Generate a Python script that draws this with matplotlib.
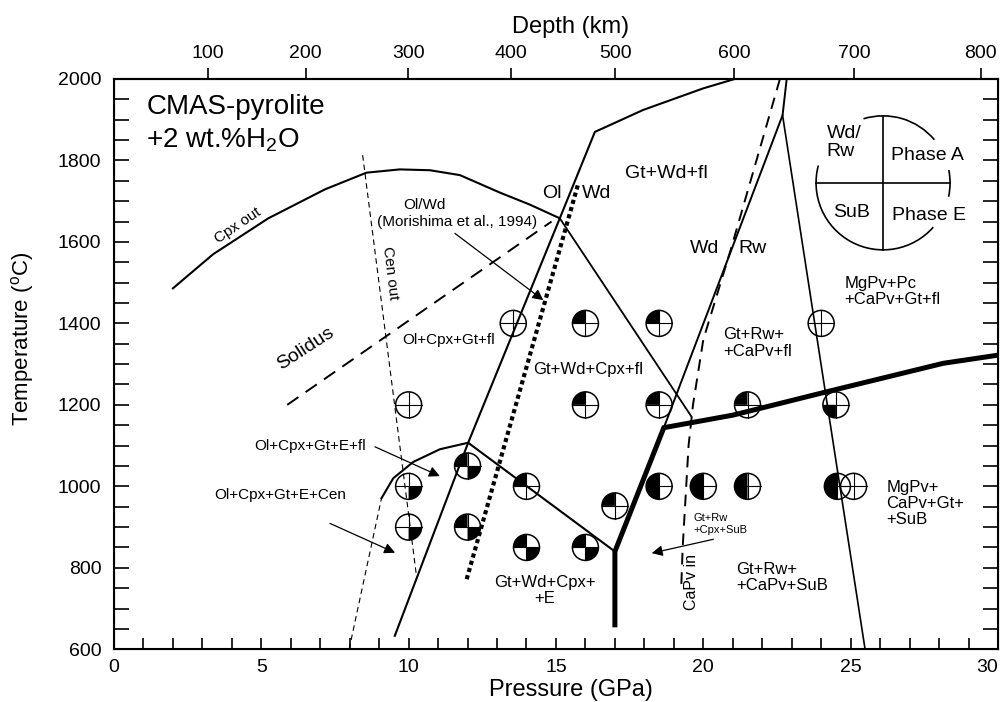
import numpy as np
import matplotlib
matplotlib.use('Agg')
import matplotlib.pyplot as plt
from matplotlib.patches import Circle, Wedge, Arc
from matplotlib.transforms import ScaledTranslation

plt.rcParams['font.family'] = 'Liberation Sans'
plt.rcParams['mathtext.fontset'] = 'custom'
plt.rcParams['mathtext.rm'] = 'Liberation Sans'
plt.rcParams['mathtext.default'] = 'regular'

# phase boundaries (P in GPa, T in C)
cpx_out_P = [2.0, 3.37, 5.24, 7.16, 8.57, 9.70, 10.72, 11.74, 13.1, 14.1, 15.13]
cpx_out_T = [1486, 1570, 1658, 1729, 1770, 1778, 1776, 1764, 1721, 1692, 1658]
cpx_hp_P = [15.13, 19.6]
cpx_hp_T = [1658, 1171]
olwd_P = [9.53, 12.02, 15.13, 16.32, 17.96, 20.0, 21.07]
olwd_T = [633, 1107, 1658, 1870, 1924, 1977, 2000]
phaseE_P = [9.08, 9.48, 10.16, 11.06, 12.02, 17.0]
phaseE_T = [971, 1020, 1060, 1091, 1107, 840]
thick_P = [17.0, 17.0, 18.66, 21.02, 24.18, 28.14, 30.0]
thick_T = [660, 840, 1144, 1175, 1232, 1302, 1322]
wdrw_P = [18.66, 22.69, 22.83]
wdrw_T = [1144, 1911, 2000]
mgpv_P = [22.69, 25.49]
mgpv_T = [1911, 600]
capv_P = [22.6, 20.96, 20.0, 19.65, 19.5, 19.3, 19.25]
capv_T = [2000, 1588, 1360, 1200, 1100, 850, 750]
morishima_P = [11.97, 15.76]
morishima_T = [772, 1744]
solidus_P = [5.88, 14.85]
solidus_T = [1200, 1650]
cen_out_P = [8.44, 10.27]
cen_out_T = [1813, 778]
cen_low_P = [7.98, 9.08]
cen_low_T = [600, 971]

# experiments: filled quadrants TL=Wd/Rw, TR=Phase A, BL=SuB, BR=Phase E
exp_P = [10, 13.55, 16, 18.5, 24.0, 16, 18.5, 21.5, 24.5,
         10, 10, 12, 12, 14, 14, 16, 17.0,
         18.5, 20, 21.5, 24.55, 25.1]
exp_T = [1200, 1400, 1400, 1400, 1400, 1200, 1200, 1200, 1200,
         1000, 900, 1050, 900, 1000, 850, 850, 952,
         1000, 1000, 1000, 1000, 1000]
exp_fill = ['', '', 'TL', 'TL', '', 'TL', 'TL', 'TL', 'BL',
            'BR', 'BR', 'TL BR', 'TL BR', 'TL', 'TL BR', 'TL BR', 'TL',
            'TL BL', 'TL BL', 'TL BL', 'TL BL', '']

depth_km = [100, 200, 300, 400, 500, 600, 700, 800]
depth_P = [3.19, 6.51, 9.99, 13.46, 17.02, 21.05, 25.12, 29.42]

fig = plt.figure(figsize=(10.04, 7.02), dpi=100)
ax = fig.add_axes([0.1135, 0.0751, 0.8805, 0.8124])

k = 'black'
ax.plot(cpx_out_P, cpx_out_T, color=k, lw=1.5)
ax.plot(cpx_hp_P, cpx_hp_T, color=k, lw=1.3)
ax.plot(olwd_P, olwd_T, color=k, lw=1.5)
ax.plot(phaseE_P, phaseE_T, color=k, lw=1.5)
ax.plot(thick_P, thick_T, color=k, lw=3.6, solid_joinstyle='miter')
ax.plot(wdrw_P, wdrw_T, color=k, lw=1.4)
ax.plot(mgpv_P, mgpv_T, color=k, lw=1.2)
ax.plot(capv_P, capv_T, color=k, lw=1.4, dashes=(6, 4))
ax.plot(morishima_P, morishima_T, color=k, lw=3.0, dashes=(1, 0.8))
ax.plot(solidus_P, solidus_T, color=k, lw=1.4, dashes=(7, 4.5))
ax.plot(cen_out_P, cen_out_T, color=k, lw=0.8, dashes=(5, 3.5))
ax.plot(cen_low_P, cen_low_T, color=k, lw=0.8, dashes=(5, 3.5))

# arrows
arr = dict(arrowstyle='-|>', color=k, lw=0.9, mutation_scale=16, shrinkA=0, shrinkB=0)
ax.annotate('', xy=(14.57, 1457), xytext=(11.57, 1621), arrowprops=arr)
ax.annotate('', xy=(11.06, 1025), xytext=(8.86, 1097), arrowprops=arr)
ax.annotate('', xy=(9.54, 837), xytext=(7.33, 909), arrowprops=arr)
ax.annotate('', xy=(18.25, 836), xytext=(20.34, 870), arrowprops=arr)


def sym_transform(x, y):
    return fig.dpi_scale_trans + ScaledTranslation(x, y, ax.transData)


quad = {'TR': (0, 90), 'TL': (90, 180), 'BL': (180, 270), 'BR': (270, 360)}
r = 0.13
for x, y, f in zip(exp_P, exp_T, exp_fill):
    tr = sym_transform(x, y)
    for q in f.split():
        ax.add_patch(Wedge((0, 0), r, quad[q][0], quad[q][1], transform=tr,
                           fc=k, ec='none', zorder=5))
    ax.add_patch(Circle((0, 0), r, transform=tr, fc='none', ec=k, lw=1.1, zorder=6))
    ax.plot([-r, r], [0, 0], transform=tr, color=k, lw=0.8, zorder=6)
    ax.plot([0, 0], [-r, r], transform=tr, color=k, lw=0.8, zorder=6)

# key circle
tr = sym_transform(26.1, 1745)
R = 0.67
for a1, a2 in [(40, 107), (165, 318.5), (-12, 11)]:
    ax.add_patch(Arc((0, 0), 2 * R, 2 * R, theta1=a1, theta2=a2, transform=tr, color=k, lw=1.2))
ax.plot([-R, R], [0, 0], transform=tr, color=k, lw=1.2)
ax.plot([0, 0], [-R, R], transform=tr, color=k, lw=1.2)
ax.text(24.18, 1844, 'Wd/\nRw', fontsize=14, ha='left', va='center', linespacing=1.05)
ax.text(26.36, 1813, 'Phase A', fontsize=14, ha='left', va='center')
ax.text(25.03, 1672, 'SuB', fontsize=14, ha='center', va='center')
ax.text(26.39, 1664, 'Phase E', fontsize=14, ha='left', va='center')

# labels
ax.text(1.1, 1931, 'CMAS-pyrolite', fontsize=20, ha='left', va='center')
ax.text(1.1, 1850, '+2 wt.%H$_2$O', fontsize=20, ha='left', va='center')
ax.text(4.22, 1641, 'Cpx out', fontsize=11, ha='center', va='center', rotation=34)
ax.text(9.37, 1523, 'Cen out', fontsize=11, ha='center', va='center', rotation=-83)
ax.text(10.55, 1690, 'Ol/Wd', fontsize=11, ha='center', va='center')
ax.text(11.63, 1648, '(Morishima et al., 1994)', fontsize=11, ha='center', va='center')
ax.text(6.5, 1338, 'Solidus', fontsize=14, ha='center', va='center', rotation=33)
ax.text(11.35, 1359, 'Ol+Cpx+Gt+fl', fontsize=11, ha='center', va='center')
ax.text(6.65, 1099, 'Ol+Cpx+Gt+E+fl', fontsize=11, ha='center', va='center')
ax.text(5.64, 979, 'Ol+Cpx+Gt+E+Cen', fontsize=11, ha='center', va='center')
ax.text(14.85, 1719, 'Ol', fontsize=14, ha='center', va='center')
ax.text(16.38, 1719, 'Wd', fontsize=14, ha='center', va='center')
ax.text(18.75, 1768, 'Gt+Wd+fl', fontsize=14, ha='center', va='center')
ax.text(20.05, 1584, 'Wd', fontsize=14, ha='center', va='center')
ax.text(21.66, 1584, 'Rw', fontsize=14, ha='center', va='center')
ax.text(20.68, 1352, 'Gt+Rw+\n+CaPv+fl', fontsize=12, ha='left', va='center', linespacing=1.1)
ax.text(24.8, 1478, 'MgPv+Pc\n+CaPv+Gt+fl', fontsize=12, ha='left', va='center', linespacing=1.1)
ax.text(14.23, 1286, 'Gt+Wd+Cpx+fl', fontsize=12, ha='left', va='center')
ax.text(14.63, 744, 'Gt+Wd+Cpx+\n+E', fontsize=12, ha='center', va='center', linespacing=1.1)
ax.text(19.66, 908, 'Gt+Rw\n+Cpx+SuB', fontsize=8, ha='left', va='center', linespacing=1.2)
ax.text(19.6, 766, 'CaPv in', fontsize=11.5, ha='center', va='center', rotation=90)
ax.text(21.13, 777, 'Gt+Rw+\n+CaPv+SuB', fontsize=12, ha='left', va='center', linespacing=1.1)
ax.text(26.22, 958, 'MgPv+\nCaPv+Gt+\n+SuB', fontsize=12, ha='left', va='center', linespacing=1.1)

# axes
ax.set_xlim(0, 30)
ax.set_ylim(600, 2000)
ax.set_xticks(np.arange(0, 31, 5))
ax.set_xticks(np.arange(0, 31, 1), minor=True)
ax.set_yticks(np.arange(600, 2001, 200))
ax.set_yticks(np.arange(600, 2001, 50), minor=True)
ax.tick_params(axis='x', which='both', direction='in', length=8, width=1.2, top=False,
               labelsize=14, pad=7)
ax.tick_params(axis='y', which='both', direction='in', length=11, width=1.2, right=True,
               labelsize=14, pad=9)
ax.get_xticklabels()[-1].set_horizontalalignment('right')
for s in ax.spines.values():
    s.set_linewidth(1.5)
ax.set_xlabel('Pressure (GPa)', fontsize=17)
ax.xaxis.set_label_coords(0.517, -0.052)
ax.set_ylabel('Temperature ($^o$C)', fontsize=16)
ax.yaxis.set_label_coords(-0.088, 0.545)

ax2 = ax.twiny()
ax2.set_xlim(0, 30)
ax2.set_xticks(depth_P)
ax2.set_xticklabels([str(d) for d in depth_km])
ax2.tick_params(axis='x', direction='out', length=8, width=1.2, labelsize=14, pad=4)
ax2.spines['top'].set_linewidth(1.5)
ax2.set_xlabel('Depth (km)', fontsize=17)
ax2.xaxis.set_label_coords(0.516, 1.08)

fig.savefig('out.png', dpi=100)
